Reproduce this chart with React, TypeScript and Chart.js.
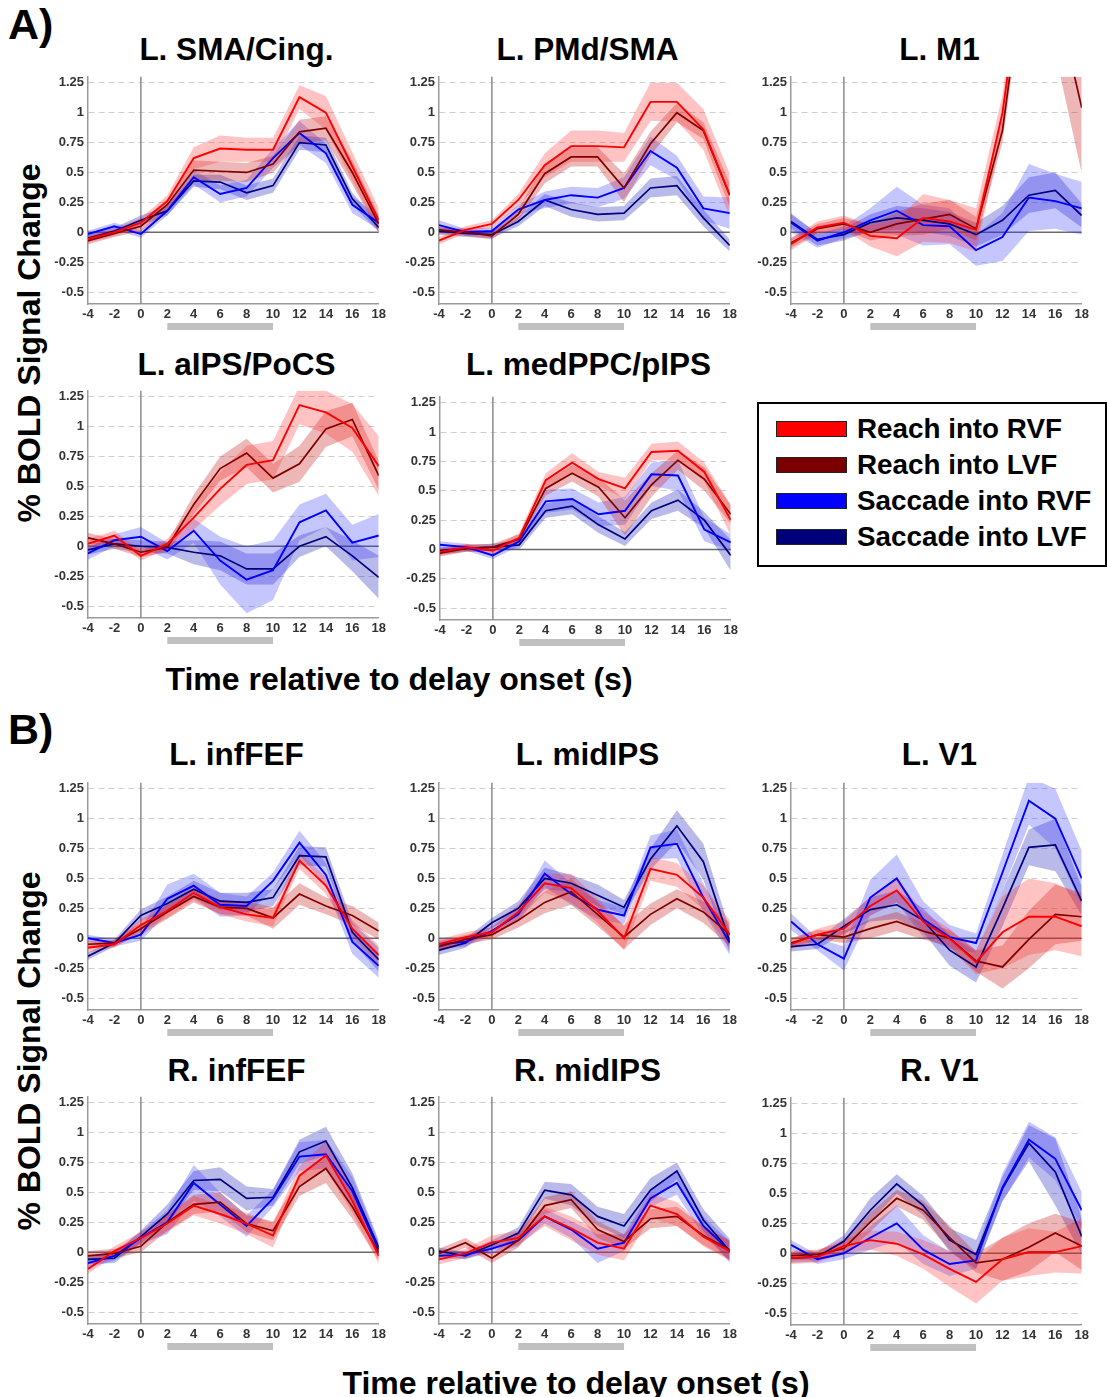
import React, { useEffect, useRef } from "react";
import { Chart, registerables } from "chart.js";
Chart.register(...registerables);

// ---------- shared axes / labels ----------
const timePoints = [-4, -2, 0, 2, 4, 6, 8, 10, 12, 14, 16, 18];
const xTickValues = [-4, -2, 0, 2, 4, 6, 8, 10, 12, 14, 16, 18];
const yTickValues = [-0.5, -0.25, 0, 0.25, 0.5, 0.75, 1, 1.25];
const delayPeriod = [2, 10];
const seriesNames = ["Reach into RVF", "Reach into LVF", "Saccade into RVF", "Saccade into LVF"];

// ---------- data: [Reach RVF, Reach LVF, Saccade RVF, Saccade LVF] ----------
const smaCingMean = [
  [-0.055, 0.0, 0.08, 0.26, 0.62, 0.7, 0.69, 0.69, 1.13, 1.0, 0.55, 0.1],
  [-0.07, -0.01, 0.05, 0.23, 0.52, 0.51, 0.5, 0.57, 0.84, 0.87, 0.5, 0.07],
  [-0.015, 0.05, -0.015, 0.18, 0.46, 0.32, 0.37, 0.62, 0.83, 0.66, 0.23, 0.08],
  [-0.05, 0.01, 0.1, 0.18, 0.43, 0.42, 0.33, 0.39, 0.75, 0.73, 0.28, 0.04],
];
const smaCingErr = [
  [0.03, 0.03, 0.04, 0.05, 0.09, 0.11, 0.1, 0.1, 0.1, 0.14, 0.12, 0.1],
  [0.03, 0.03, 0.04, 0.05, 0.08, 0.08, 0.08, 0.07, 0.1, 0.1, 0.1, 0.07],
  [0.03, 0.03, 0.03, 0.04, 0.06, 0.07, 0.07, 0.08, 0.1, 0.08, 0.07, 0.06],
  [0.03, 0.03, 0.04, 0.04, 0.05, 0.06, 0.06, 0.06, 0.06, 0.06, 0.05, 0.04],
];
const pmdSmaMean = [
  [-0.07, 0.02, 0.07, 0.27, 0.56, 0.72, 0.72, 0.71, 1.09, 1.09, 0.86, 0.31],
  [0.02, 0.0, -0.03, 0.15, 0.49, 0.63, 0.63, 0.37, 0.74, 1.0, 0.85, 0.31],
  [0.06, 0.0, 0.01, 0.19, 0.27, 0.31, 0.29, 0.37, 0.68, 0.54, 0.2, 0.16],
  [0.01, -0.01, -0.02, 0.09, 0.27, 0.19, 0.15, 0.16, 0.37, 0.39, 0.12, -0.11],
];
const pmdSmaErr = [
  [0.03, 0.03, 0.03, 0.05, 0.1, 0.13, 0.13, 0.12, 0.16, 0.16, 0.17, 0.18],
  [0.03, 0.03, 0.03, 0.05, 0.08, 0.08, 0.08, 0.12, 0.1, 0.08, 0.07, 0.1],
  [0.04, 0.03, 0.03, 0.04, 0.07, 0.07, 0.08, 0.09, 0.12, 0.1, 0.1, 0.13],
  [0.03, 0.03, 0.03, 0.04, 0.05, 0.06, 0.06, 0.06, 0.08, 0.08, 0.07, 0.05],
];
const m1Mean = [
  [-0.1, 0.04, 0.08, -0.03, -0.05, 0.12, 0.09, 0.02, 1.0, 2.6, 3.0, 2.5],
  [-0.09, 0.03, 0.07, 0.0, 0.07, 0.11, 0.15, 0.03, 0.85, 2.5, 2.0, 1.04],
  [0.08, -0.07, 0.0, 0.1, 0.18, 0.06, 0.05, -0.15, -0.04, 0.29, 0.26, 0.2],
  [0.09, -0.06, -0.02, 0.08, 0.12, 0.1, 0.07, -0.02, 0.1, 0.31, 0.35, 0.14],
];
const m1Err = [
  [0.05, 0.05, 0.06, 0.09, 0.15, 0.2, 0.18, 0.18, 0.15, 0.2, 0.3, 0.3],
  [0.04, 0.04, 0.05, 0.07, 0.1, 0.13, 0.12, 0.1, 0.1, 0.15, 0.5, 0.55],
  [0.08, 0.06, 0.05, 0.1, 0.2, 0.17, 0.15, 0.13, 0.2, 0.28, 0.23, 0.22],
  [0.06, 0.05, 0.05, 0.07, 0.1, 0.1, 0.1, 0.1, 0.12, 0.15, 0.15, 0.1],
];
const aipsMean = [
  [0.02, 0.09, -0.08, 0.02, 0.24, 0.48, 0.68, 0.72, 1.18, 1.12, 0.99, 0.67],
  [0.07, 0.02, -0.05, -0.01, 0.35, 0.65, 0.78, 0.57, 0.69, 0.98, 1.06, 0.59],
  [-0.06, 0.05, 0.08, -0.04, 0.13, -0.12, -0.28, -0.2, 0.2, 0.3, 0.03, 0.09],
  [-0.03, 0.02, 0.0, -0.01, -0.05, -0.08, -0.19, -0.19, 0.0, 0.08, -0.08, -0.26],
];
const aipsErr = [
  [0.04, 0.04, 0.04, 0.04, 0.1, 0.14, 0.16, 0.16, 0.16, 0.18, 0.2, 0.25],
  [0.04, 0.04, 0.04, 0.04, 0.08, 0.1, 0.12, 0.12, 0.15, 0.15, 0.14, 0.12],
  [0.05, 0.05, 0.08, 0.07, 0.1, 0.2, 0.28, 0.25, 0.15, 0.14, 0.15, 0.18],
  [0.04, 0.04, 0.05, 0.05, 0.1, 0.12, 0.13, 0.13, 0.09, 0.08, 0.13, 0.18],
];
const medppcMean = [
  [-0.02, 0.02, -0.01, 0.1, 0.59, 0.74, 0.6, 0.52, 0.83, 0.84, 0.66, 0.25],
  [-0.03, 0.01, 0.02, 0.09, 0.52, 0.65, 0.53, 0.27, 0.55, 0.76, 0.6, 0.3],
  [0.04, 0.02, -0.05, 0.07, 0.41, 0.43, 0.3, 0.33, 0.64, 0.63, 0.17, 0.06],
  [-0.01, 0.01, 0.02, 0.04, 0.33, 0.37, 0.21, 0.09, 0.33, 0.42, 0.25, -0.05],
];
const medppcErr = [
  [0.03, 0.03, 0.03, 0.04, 0.06, 0.08, 0.06, 0.09, 0.07, 0.08, 0.08, 0.13],
  [0.03, 0.03, 0.03, 0.04, 0.06, 0.07, 0.08, 0.15, 0.1, 0.08, 0.1, 0.08],
  [0.03, 0.03, 0.03, 0.04, 0.1, 0.09, 0.1, 0.12, 0.1, 0.13, 0.1, 0.07],
  [0.03, 0.03, 0.03, 0.04, 0.06, 0.07, 0.07, 0.06, 0.07, 0.09, 0.07, 0.13],
];
const lInfFefMean = [
  [-0.08, -0.05, 0.11, 0.23, 0.38, 0.26, 0.2, 0.17, 0.65, 0.44, 0.08, -0.14],
  [-0.05, -0.04, 0.08, 0.22, 0.35, 0.26, 0.25, 0.17, 0.37, 0.27, 0.19, 0.06],
  [0.0, -0.04, 0.03, 0.33, 0.44, 0.28, 0.27, 0.48, 0.8, 0.53, -0.03, -0.23],
  [-0.15, -0.04, 0.19, 0.29, 0.41, 0.31, 0.3, 0.34, 0.69, 0.68, 0.05, -0.18],
];
const lInfFefErr = [
  [0.04, 0.03, 0.05, 0.06, 0.06, 0.06, 0.06, 0.07, 0.07, 0.07, 0.07, 0.08],
  [0.03, 0.03, 0.05, 0.06, 0.05, 0.06, 0.06, 0.09, 0.09, 0.07, 0.08, 0.07],
  [0.03, 0.03, 0.05, 0.12, 0.1, 0.1, 0.08, 0.07, 0.1, 0.1, 0.1, 0.1],
  [0.03, 0.03, 0.05, 0.06, 0.07, 0.07, 0.08, 0.07, 0.08, 0.08, 0.08, 0.1],
];
const lMidIpsMean = [
  [-0.05, 0.01, 0.05, 0.22, 0.46, 0.42, 0.23, 0.0, 0.58, 0.53, 0.34, 0.03],
  [-0.07, -0.01, 0.03, 0.15, 0.3, 0.39, 0.2, 0.01, 0.2, 0.33, 0.22, 0.03],
  [-0.05, -0.03, 0.06, 0.2, 0.54, 0.37, 0.24, 0.19, 0.76, 0.79, 0.34, -0.04],
  [-0.1, -0.04, 0.13, 0.25, 0.5, 0.46, 0.36, 0.26, 0.66, 0.94, 0.64, -0.03],
];
const lMidIpsErr = [
  [0.04, 0.04, 0.04, 0.06, 0.08, 0.12, 0.1, 0.1, 0.1, 0.1, 0.1, 0.12],
  [0.04, 0.04, 0.04, 0.06, 0.09, 0.11, 0.1, 0.1, 0.09, 0.08, 0.09, 0.1],
  [0.04, 0.04, 0.04, 0.06, 0.11, 0.09, 0.08, 0.07, 0.1, 0.12, 0.12, 0.1],
  [0.04, 0.04, 0.04, 0.06, 0.09, 0.07, 0.09, 0.06, 0.09, 0.13, 0.15, 0.1],
];
const lV1Mean = [
  [-0.05, 0.03, 0.08, 0.27, 0.4, 0.14, 0.0, -0.2, 0.05, 0.18, 0.18, 0.1],
  [-0.04, 0.03, 0.01, 0.08, 0.14, 0.06, 0.0, -0.19, -0.24, -0.01, 0.2, 0.18],
  [0.14, -0.05, -0.17, 0.34, 0.5, 0.16, 0.01, -0.04, 0.55, 1.15, 1.0, 0.5],
  [-0.07, -0.05, 0.1, 0.24, 0.28, 0.15, -0.1, -0.24, 0.25, 0.76, 0.78, 0.31],
];
const lV1Err = [
  [0.04, 0.05, 0.06, 0.08, 0.1, 0.08, 0.08, 0.1, 0.3, 0.32, 0.28, 0.25],
  [0.04, 0.04, 0.05, 0.08, 0.08, 0.07, 0.07, 0.09, 0.18, 0.24, 0.25, 0.2],
  [0.07, 0.05, 0.1, 0.15, 0.2, 0.15, 0.1, 0.08, 0.15, 0.2, 0.25, 0.23],
  [0.04, 0.04, 0.06, 0.1, 0.12, 0.1, 0.13, 0.13, 0.15, 0.15, 0.22, 0.12],
];
const rInfFefMean = [
  [-0.14, 0.01, 0.12, 0.24, 0.39, 0.32, 0.24, 0.14, 0.64, 0.81, 0.43, -0.03],
  [-0.03, -0.01, 0.05, 0.25, 0.4, 0.42, 0.24, 0.18, 0.55, 0.7, 0.38, 0.0],
  [-0.09, -0.03, 0.12, 0.25, 0.58, 0.4, 0.22, 0.45, 0.8, 0.82, 0.51, 0.02],
  [-0.06, -0.05, 0.13, 0.32, 0.6, 0.61, 0.45, 0.46, 0.84, 0.93, 0.54, 0.04],
];
const rInfFefErr = [
  [0.04, 0.04, 0.05, 0.07, 0.08, 0.08, 0.09, 0.1, 0.08, 0.12, 0.1, 0.07],
  [0.04, 0.04, 0.05, 0.07, 0.08, 0.08, 0.07, 0.08, 0.08, 0.12, 0.1, 0.07],
  [0.04, 0.04, 0.05, 0.1, 0.15, 0.1, 0.09, 0.07, 0.12, 0.12, 0.12, 0.06],
  [0.04, 0.04, 0.05, 0.08, 0.08, 0.1, 0.1, 0.07, 0.1, 0.12, 0.12, 0.06],
];
const rMidIpsMean = [
  [-0.06, -0.01, 0.08, 0.12, 0.3, 0.2, 0.08, 0.03, 0.39, 0.32, 0.13, 0.01],
  [-0.01, 0.08, -0.05, 0.1, 0.39, 0.44, 0.19, 0.09, 0.28, 0.3, 0.14, 0.02],
  [-0.03, -0.02, 0.03, 0.1, 0.3, 0.19, 0.03, 0.08, 0.45, 0.58, 0.22, 0.01],
  [0.01, -0.03, 0.06, 0.16, 0.52, 0.48, 0.3, 0.22, 0.52, 0.68, 0.27, 0.01],
];
const rMidIpsErr = [
  [0.04, 0.04, 0.06, 0.06, 0.08, 0.1, 0.1, 0.1, 0.1, 0.1, 0.08, 0.08],
  [0.04, 0.04, 0.04, 0.06, 0.07, 0.07, 0.07, 0.06, 0.08, 0.08, 0.08, 0.08],
  [0.03, 0.03, 0.04, 0.05, 0.06, 0.07, 0.12, 0.07, 0.07, 0.1, 0.08, 0.08],
  [0.03, 0.03, 0.04, 0.05, 0.07, 0.09, 0.08, 0.1, 0.1, 0.07, 0.09, 0.1],
];
const rV1Mean = [
  [-0.04, -0.03, 0.06, 0.11, 0.08, -0.01, -0.13, -0.24, -0.05, 0.01, 0.01, 0.06],
  [-0.02, -0.01, 0.04, 0.26, 0.46, 0.36, 0.13, -0.08, -0.05, 0.05, 0.17, 0.06],
  [0.07, -0.05, 0.0, 0.13, 0.25, 0.03, -0.09, -0.06, 0.55, 0.95, 0.79, 0.36],
  [-0.04, -0.03, 0.1, 0.36, 0.58, 0.4, 0.11, -0.01, 0.54, 0.92, 0.68, 0.14],
];
const rV1Err = [
  [0.05, 0.05, 0.06, 0.08, 0.1, 0.12, 0.15, 0.18, 0.18, 0.2, 0.17, 0.23],
  [0.04, 0.04, 0.05, 0.08, 0.07, 0.08, 0.1, 0.08, 0.18, 0.2, 0.16, 0.2],
  [0.04, 0.04, 0.05, 0.1, 0.15, 0.12, 0.1, 0.07, 0.12, 0.15, 0.18, 0.15],
  [0.04, 0.04, 0.05, 0.1, 0.08, 0.08, 0.1, 0.12, 0.1, 0.15, 0.28, 0.15],
];

// ---------- styles ----------
const FONT = "'Liberation Sans', Arial, Helvetica, sans-serif";
const lineColors = ["#ff0000", "#800000", "#0000ff", "#000080"];
const lineWidths = [1.9, 1.7, 1.9, 1.7];
const bandColors = [
  "rgba(255,40,40,0.28)",
  "rgba(200,30,30,0.32)",
  "rgba(50,50,255,0.28)",
  "rgba(40,40,190,0.32)",
];
const legendColors = ["#ff0000", "#7a0000", "#0000ff", "#00007a"];

const YW = 45;
const PT = 8;
const PR = 8;
const XH = 32;
const PLOT_W = 293;

type PanelDef = {
  title: string;
  means: number[][];
  errs: number[][];
  plotLeft: number;
  plotTop: number;
  plotH: number;
  titleTop: number;
};

const PANELS: PanelDef[] = [
  { title: "L. SMA/Cing.", means: smaCingMean, errs: smaCingErr, plotLeft: 88, plotTop: 73, plotH: 231, titleTop: 34 },
  { title: "L. PMd/SMA", means: pmdSmaMean, errs: pmdSmaErr, plotLeft: 439, plotTop: 73, plotH: 231, titleTop: 34 },
  { title: "L. M1", means: m1Mean, errs: m1Err, plotLeft: 791, plotTop: 73, plotH: 231, titleTop: 34 },
  { title: "L. aIPS/PoCS", means: aipsMean, errs: aipsErr, plotLeft: 88, plotTop: 387, plotH: 231, titleTop: 349 },
  { title: "L. medPPC/pIPS", means: medppcMean, errs: medppcErr, plotLeft: 440, plotTop: 393, plotH: 227, titleTop: 349 },
  { title: "L. infFEF", means: lInfFefMean, errs: lInfFefErr, plotLeft: 88, plotTop: 779, plotH: 231, titleTop: 739 },
  { title: "L. midIPS", means: lMidIpsMean, errs: lMidIpsErr, plotLeft: 439, plotTop: 779, plotH: 231, titleTop: 739 },
  { title: "L. V1", means: lV1Mean, errs: lV1Err, plotLeft: 791, plotTop: 779, plotH: 231, titleTop: 739 },
  { title: "R. infFEF", means: rInfFefMean, errs: rInfFefErr, plotLeft: 88, plotTop: 1093, plotH: 231, titleTop: 1055 },
  { title: "R. midIPS", means: rMidIpsMean, errs: rMidIpsErr, plotLeft: 439, plotTop: 1093, plotH: 231, titleTop: 1055 },
  { title: "R. V1", means: rV1Mean, errs: rV1Err, plotLeft: 791, plotTop: 1094, plotH: 231, titleTop: 1055 },
];

const zeroLinesPlugin = {
  id: "zeroLines",
  beforeDatasetsDraw(chart: any) {
    const { ctx, chartArea: a, scales } = chart;
    const x0 = scales.x.getPixelForValue(0);
    const y0 = scales.y.getPixelForValue(0);
    ctx.save();
    ctx.lineWidth = 1.5;
    ctx.strokeStyle = "#8a8a8a";
    ctx.beginPath();
    ctx.moveTo(x0, a.top);
    ctx.lineTo(x0, a.bottom);
    ctx.stroke();
    ctx.strokeStyle = "#6a6a6a";
    ctx.beginPath();
    ctx.moveTo(a.left, y0);
    ctx.lineTo(a.right, y0);
    ctx.stroke();
    ctx.restore();
  },
};

const delayBarPlugin = {
  id: "delayBar",
  afterDraw(chart: any) {
    const { ctx, chartArea: a, scales } = chart;
    const x0 = scales.x.getPixelForValue(delayPeriod[0]);
    const x1 = scales.x.getPixelForValue(delayPeriod[1]);
    ctx.save();
    ctx.fillStyle = "#c0c0c0";
    ctx.fillRect(x0, a.bottom + 19, x1 - x0, 7);
    ctx.restore();
  },
};

const tickFont = { family: FONT, size: 13, weight: "bold" as const };

function Panel(p: PanelDef) {
  const ref = useRef<HTMLCanvasElement>(null);
  const cw = YW + PLOT_W + PR;
  const ch = PT + p.plotH + XH;
  useEffect(() => {
    if (!ref.current) return;
    const toPts = (arr: number[]) => arr.map((v, i) => ({ x: timePoints[i], y: v }));
    const lines = p.means.map((m, s) => ({
      label: seriesNames[s],
      data: toPts(m),
      borderColor: lineColors[s],
      borderWidth: lineWidths[s],
      pointRadius: 0,
      fill: false,
      tension: 0,
    }));
    const bands: any[] = [];
    p.means.forEach((m, s) => {
      bands.push({
        data: toPts(m.map((v, i) => v + p.errs[s][i])),
        borderWidth: 0,
        borderColor: "rgba(0,0,0,0)",
        backgroundColor: bandColors[s],
        pointRadius: 0,
        fill: "+1",
        tension: 0,
      });
      bands.push({
        data: toPts(m.map((v, i) => v - p.errs[s][i])),
        borderWidth: 0,
        borderColor: "rgba(0,0,0,0)",
        pointRadius: 0,
        fill: false,
        tension: 0,
      });
    });
    const chart = new Chart(ref.current, {
      type: "line",
      data: { datasets: [...lines, ...bands] as any },
      options: {
        responsive: false,
        animation: false,
        events: [],
        layout: { padding: { top: PT, right: PR, left: 0, bottom: 0 } },
        plugins: { legend: { display: false }, tooltip: { enabled: false }, title: { display: false } },
        scales: {
          x: {
            type: "linear",
            min: -4,
            max: 18,
            afterBuildTicks: (s: any) => {
              s.ticks = xTickValues.map((v) => ({ value: v }));
            },
            afterFit: (s: any) => {
              s.height = XH;
            },
            grid: { display: false, drawTicks: false },
            border: { display: true, color: "#9a9a9a", width: 1.5 },
            ticks: {
              padding: 3,
              color: "#333",
              font: tickFont,
              maxRotation: 0,
              autoSkip: false,
              callback: (v: any) => String(v),
            },
          },
          y: {
            type: "linear",
            min: -0.6,
            max: 1.3,
            afterBuildTicks: (s: any) => {
              s.ticks = yTickValues.map((v) => ({ value: v }));
            },
            afterFit: (s: any) => {
              s.width = YW;
            },
            grid: {
              drawTicks: false,
              lineWidth: 1,
              color: (c: any) => (c.tick && c.tick.value === 0 ? "rgba(0,0,0,0)" : "#cfcfcf"),
            },
            border: { display: true, color: "#9a9a9a", width: 1.5, dash: [6, 4] },
            ticks: {
              padding: 4,
              color: "#333",
              font: tickFont,
              autoSkip: false,
              callback: (v: any) => String(v),
            },
          },
        },
      } as any,
      plugins: [zeroLinesPlugin, delayBarPlugin],
    });
    return () => chart.destroy();
  }, []);
  return (
    <>
      <div
        style={{
          position: "absolute",
          left: p.plotLeft + PLOT_W / 2 - 160 + 2,
          top: p.titleTop,
          width: 320,
          textAlign: "center",
          fontSize: 31.5,
          lineHeight: "31px",
          fontWeight: "bold",
          whiteSpace: "nowrap",
        }}
      >
        {p.title}
      </div>
      <canvas
        ref={ref}
        width={cw}
        height={ch}
        style={{ position: "absolute", left: p.plotLeft - YW, top: p.plotTop - PT, width: cw, height: ch }}
      />
    </>
  );
}

function Legend() {
  return (
    <div
      style={{
        position: "absolute",
        left: 757,
        top: 402,
        width: 350,
        height: 165,
        border: "2px solid #000",
        boxSizing: "border-box",
        background: "#fff",
      }}
    >
      {seriesNames.map((n, i) => (
        <div
          key={n}
          style={{
            position: "absolute",
            left: 17,
            top: 7 + i * 36,
            height: 36,
            display: "flex",
            alignItems: "center",
            whiteSpace: "nowrap",
          }}
        >
          <div
            style={{
              width: 71,
              height: 16,
              background: legendColors[i],
              border: "1px solid #222",
              boxSizing: "border-box",
              marginRight: 10,
            }}
          />
          <span style={{ fontSize: 27.8, fontWeight: "bold", lineHeight: "36px" }}>{n}</span>
        </div>
      ))}
    </div>
  );
}

const bigLabel: React.CSSProperties = {
  position: "absolute",
  fontWeight: "bold",
  whiteSpace: "nowrap",
  lineHeight: 1,
};

export default function App() {
  return (
    <div
      style={{
        position: "absolute",
        left: 0,
        top: 0,
        width: 1107,
        height: 1397,
        background: "#fff",
        overflow: "hidden",
        fontFamily: FONT,
        color: "#000",
      }}
    >
      <div style={{ ...bigLabel, left: 8, top: 3, fontSize: 43 }}>A)</div>
      <div style={{ ...bigLabel, left: 8, top: 708, fontSize: 43 }}>B)</div>
      <div
        style={{
          ...bigLabel,
          left: 29,
          top: 343,
          fontSize: 32,
          transform: "translate(-50%, -50%) rotate(-90deg)",
        }}
      >
        % BOLD Signal Change
      </div>
      <div
        style={{
          ...bigLabel,
          left: 29,
          top: 1051,
          fontSize: 32,
          transform: "translate(-50%, -50%) rotate(-90deg)",
        }}
      >
        % BOLD Signal Change
      </div>
      <div style={{ ...bigLabel, left: 399, top: 663, fontSize: 32, transform: "translateX(-50%)" }}>
        Time relative to delay onset (s)
      </div>
      <div style={{ ...bigLabel, left: 576, top: 1367, fontSize: 32, transform: "translateX(-50%)" }}>
        Time relative to delay onset (s)
      </div>
      {PANELS.map((p) => (
        <Panel key={p.title} {...p} />
      ))}
      <Legend />
    </div>
  );
}
